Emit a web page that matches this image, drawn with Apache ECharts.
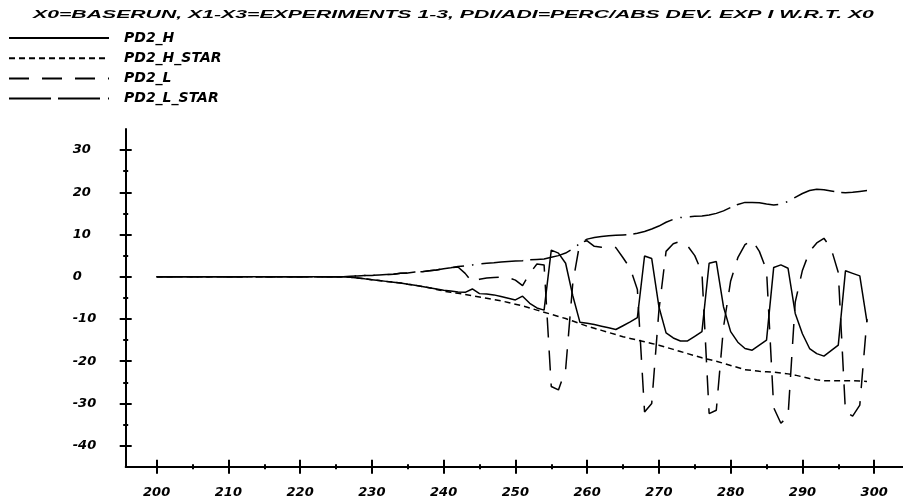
<!DOCTYPE html>
<html>
<head>
<meta charset="utf-8">
<script src="https://cdn.jsdelivr.net/npm/echarts@6/dist/echarts.min.js"></script>
<style>
  html, body { margin: 0; padding: 0; background: #fff; }
  #chart { width: 903px; height: 504px; }
</style>
</head>
<body>
<div id="chart"></div>
<script>
const titleText = 'X0=BASERUN, X1-X3=EXPERIMENTS 1-3, PDI/ADI=PERC/ABS DEV. EXP I W.R.T. X0';
const seriesNames = ['PD2_H', 'PD2_H_STAR', 'PD2_L', 'PD2_L_STAR'];

const years = [
  200,201,202,203,204,205,206,207,208,209,
  210,211,212,213,214,215,216,217,218,219,
  220,221,222,223,224,225,226,227,228,229,
  230,231,232,233,234,235,236,237,238,239,
  240,241,242,243,244,245,246,247,248,249,
  250,251,252,253,254,255,256,257,258,259,
  260,261,262,263,264,265,266,267,268,269,
  270,271,272,273,274,275,276,277,278,279,
  280,281,282,283,284,285,286,287,288,289,
  290,291,292,293,294,295,296,297,298,299
];

const pd2H = [
  0,0,0,0,0,0,0,0,0,0,
  0,0,0,0,0,0,0,0,0,0,
  0,0,0,0,0,0,0,-0.1,-0.3,-0.5,
  -0.7,-0.9,-1.1,-1.3,-1.5,-1.8,-2.0,-2.3,-2.6,-2.9,
  -3.2,-3.4,-3.6,-3.7,-2.9,-4.0,-4.1,-4.3,-4.7,-5.1,
  -5.5,-4.6,-6.3,-7.4,-7.9,6.3,5.6,3.2,-4.5,-10.8,
  -11.0,-11.3,-11.7,-12.1,-12.5,-11.6,-10.7,-9.7,4.9,4.3,
  -7.1,-13.3,-14.5,-15.2,-15.2,-14.1,-13.0,3.2,3.6,-7.1,
  -13.0,-15.5,-17.0,-17.4,-16.2,-15.0,2.2,2.8,2.0,-8.7,
  -13.5,-17.0,-18.2,-18.8,-17.5,-16.2,1.4,0.8,0.2,-10.7
];

const pd2HStar = [
  0,0,0,0,0,0,0,0,0,0,
  0,0,0,0,0,0,0,0,0,0,
  0,0,0,0,0,0,0,-0.1,-0.3,-0.5,
  -0.7,-0.9,-1.1,-1.3,-1.5,-1.8,-2.0,-2.3,-2.6,-3.0,
  -3.4,-3.7,-3.9,-4.2,-4.5,-4.8,-5.1,-5.4,-5.7,-6.1,
  -6.5,-6.9,-7.4,-7.9,-8.4,-8.9,-9.4,-9.9,-10.5,-11.1,
  -11.7,-12.2,-12.7,-13.2,-13.7,-14.2,-14.6,-15.0,-15.4,-15.8,
  -16.2,-16.7,-17.2,-17.7,-18.2,-18.7,-19.2,-19.6,-20.0,-20.5,
  -21.0,-21.5,-22.0,-22.2,-22.4,-22.5,-22.6,-22.8,-23.0,-23.3,
  -23.7,-24.1,-24.4,-24.6,-24.6,-24.6,-24.6,-24.6,-24.7,-24.8
];

const pd2L = [
  0,0,0,0,0,0,0,0,0,0,
  0,0,0,0,0,0,0,0,0,0,
  0,0,0,0,0,0,0,0.1,0.2,0.3,
  0.3,0.4,0.5,0.6,0.8,0.9,1.1,1.2,1.4,1.6,
  1.9,2.1,2.3,0.8,-1.3,-0.6,-0.3,-0.2,-0.1,-0.2,
  -0.8,-2.1,0.8,3.0,2.8,-26.0,-26.8,-22.0,-1.5,8.2,
  8.5,7.2,7.0,7.0,6.9,4.5,2.0,-3.0,-32.0,-30.0,
  -8.0,6.0,7.8,8.4,7.3,5.0,1.0,-32.4,-31.6,-12.0,
  -1.0,4.5,7.6,8.7,6.0,1.6,-31.0,-34.7,-33.0,-6.0,
  1.5,6.0,8.0,9.1,6.7,1.0,-32.0,-33.0,-30.4,-10.0
];

const pd2LStar = [
  0,0,0,0,0,0,0,0,0,0,
  0,0,0,0,0,0,0,0,0,0,
  0,0,0,0,0,0,0,0.1,0.2,0.3,
  0.3,0.4,0.5,0.6,0.8,0.9,1.1,1.2,1.4,1.6,
  1.9,2.1,2.4,2.6,2.8,3.0,3.2,3.3,3.5,3.6,
  3.7,3.8,4.0,4.1,4.2,4.6,5.0,5.6,6.6,7.9,
  8.9,9.3,9.5,9.7,9.8,9.9,10.0,10.3,10.7,11.3,
  12.0,12.9,13.6,14.0,14.2,14.3,14.4,14.6,15.0,15.6,
  16.4,17.1,17.6,17.6,17.5,17.2,17.0,17.2,17.8,18.8,
  19.7,20.4,20.7,20.6,20.3,20.0,19.9,20.0,20.2,20.4
];

const xMajorTicks = [200,210,220,230,240,250,260,270,280,290,300];
const xMinorTicks = [205,215,225,235,245,255,265,275,285,295];
const yMajorTicks = [-40,-30,-20,-10,0,10,20,30];
const yMinorTicks = [-35,-25,-15,-5,5,15,25];

const X_MIN = 195.69, X_MAX = 304.02, Y_MIN = -45, Y_MAX = 35;

const FONT_FAMILY = '"DejaVu Sans", "Liberation Sans", sans-serif';
const labelFont = { fontFamily: FONT_FAMILY, fontWeight: 'bold', fontStyle: 'italic', fontSize: 13, color: '#000' };

function zip(xs, ys) { return xs.map((x, i) => [x, ys[i]]); }

function xAx(ticks, len, inside, showLine, showLabel) {
  return {
    type: 'value', min: X_MIN, max: X_MAX, position: 'bottom', offset: 0,
    axisLine: { show: showLine, onZero: false, lineStyle: { color: '#000', width: 2 } },
    axisTick: { show: true, customValues: ticks, length: len, inside: inside, lineStyle: { color: '#000', width: 2 } },
    axisLabel: Object.assign({ show: showLabel, customValues: ticks, margin: 19 }, labelFont),
    splitLine: { show: false }
  };
}
function yAx(ticks, len, inside, showLine, showLabel) {
  return {
    type: 'value', min: Y_MIN, max: Y_MAX, position: 'left', offset: 0,
    axisLine: { show: showLine, onZero: false, lineStyle: { color: '#000', width: 2 } },
    axisTick: { show: true, customValues: ticks, length: len, inside: inside, lineStyle: { color: '#000', width: 2 } },
    axisLabel: Object.assign({ show: showLabel, customValues: ticks, margin: 53, align: 'left' }, labelFont),
    splitLine: { show: false }
  };
}

const dashes = {
  'PD2_H': 'solid',
  'PD2_H_STAR': [6, 4],
  'PD2_L': [20, 13],
  'PD2_L_STAR': [42, 7, 42, 8, 1.5, 8]
};
const values = [pd2H, pd2HStar, pd2L, pd2LStar];

const chart = echarts.init(document.getElementById('chart'), null, { renderer: 'canvas' });
chart.setOption({
  animation: false,
  backgroundColor: '#fff',
  grid: { left: 125.7, right: 0, top: 128.9, bottom: 37.2 },
  xAxis: [
    xAx(xMajorTicks, 7, false, true, true),
    xAx(xMajorTicks, 7, true, false, false),
    xAx(xMinorTicks, 2.5, false, false, false),
    xAx(xMinorTicks, 2.5, true, false, false)
  ],
  yAxis: [
    yAx(yMajorTicks, 6, false, true, true),
    yAx(yMajorTicks, 6, true, false, false),
    yAx(yMinorTicks, 2.5, false, false, false),
    yAx(yMinorTicks, 2.5, true, false, false)
  ],
  legend: {
    orient: 'vertical', left: 8, top: 31, padding: 0,
    itemWidth: 100, itemHeight: 10, itemGap: 6.2,
    data: seriesNames,
    itemStyle: { color: 'rgba(0,0,0,0)', borderColor: 'rgba(0,0,0,0)', borderWidth: 0, opacity: 0 },
    textStyle: Object.assign({ padding: [0, 0, 0, 10] }, labelFont, { fontSize: 14 }),
    selectedMode: false
  },
  graphic: [{
    type: 'text', x: 33, y: 9, scaleX: 1.845, silent: true,
    style: { text: titleText, font: 'italic bold 11.5px "Liberation Sans", sans-serif', fill: '#000', verticalAlign: 'top' }
  }],
  series: seriesNames.map((name, i) => ({
    name: name, type: 'line', xAxisIndex: 0, yAxisIndex: 0,
    symbol: 'none', showSymbol: false,
    data: zip(years, values[i]),
    lineStyle: { color: '#000', width: 1.5, type: dashes[name], cap: 'butt' },
    itemStyle: { color: '#000' },
    emphasis: { disabled: true }
  }))
});
</script>
</body>
</html>
